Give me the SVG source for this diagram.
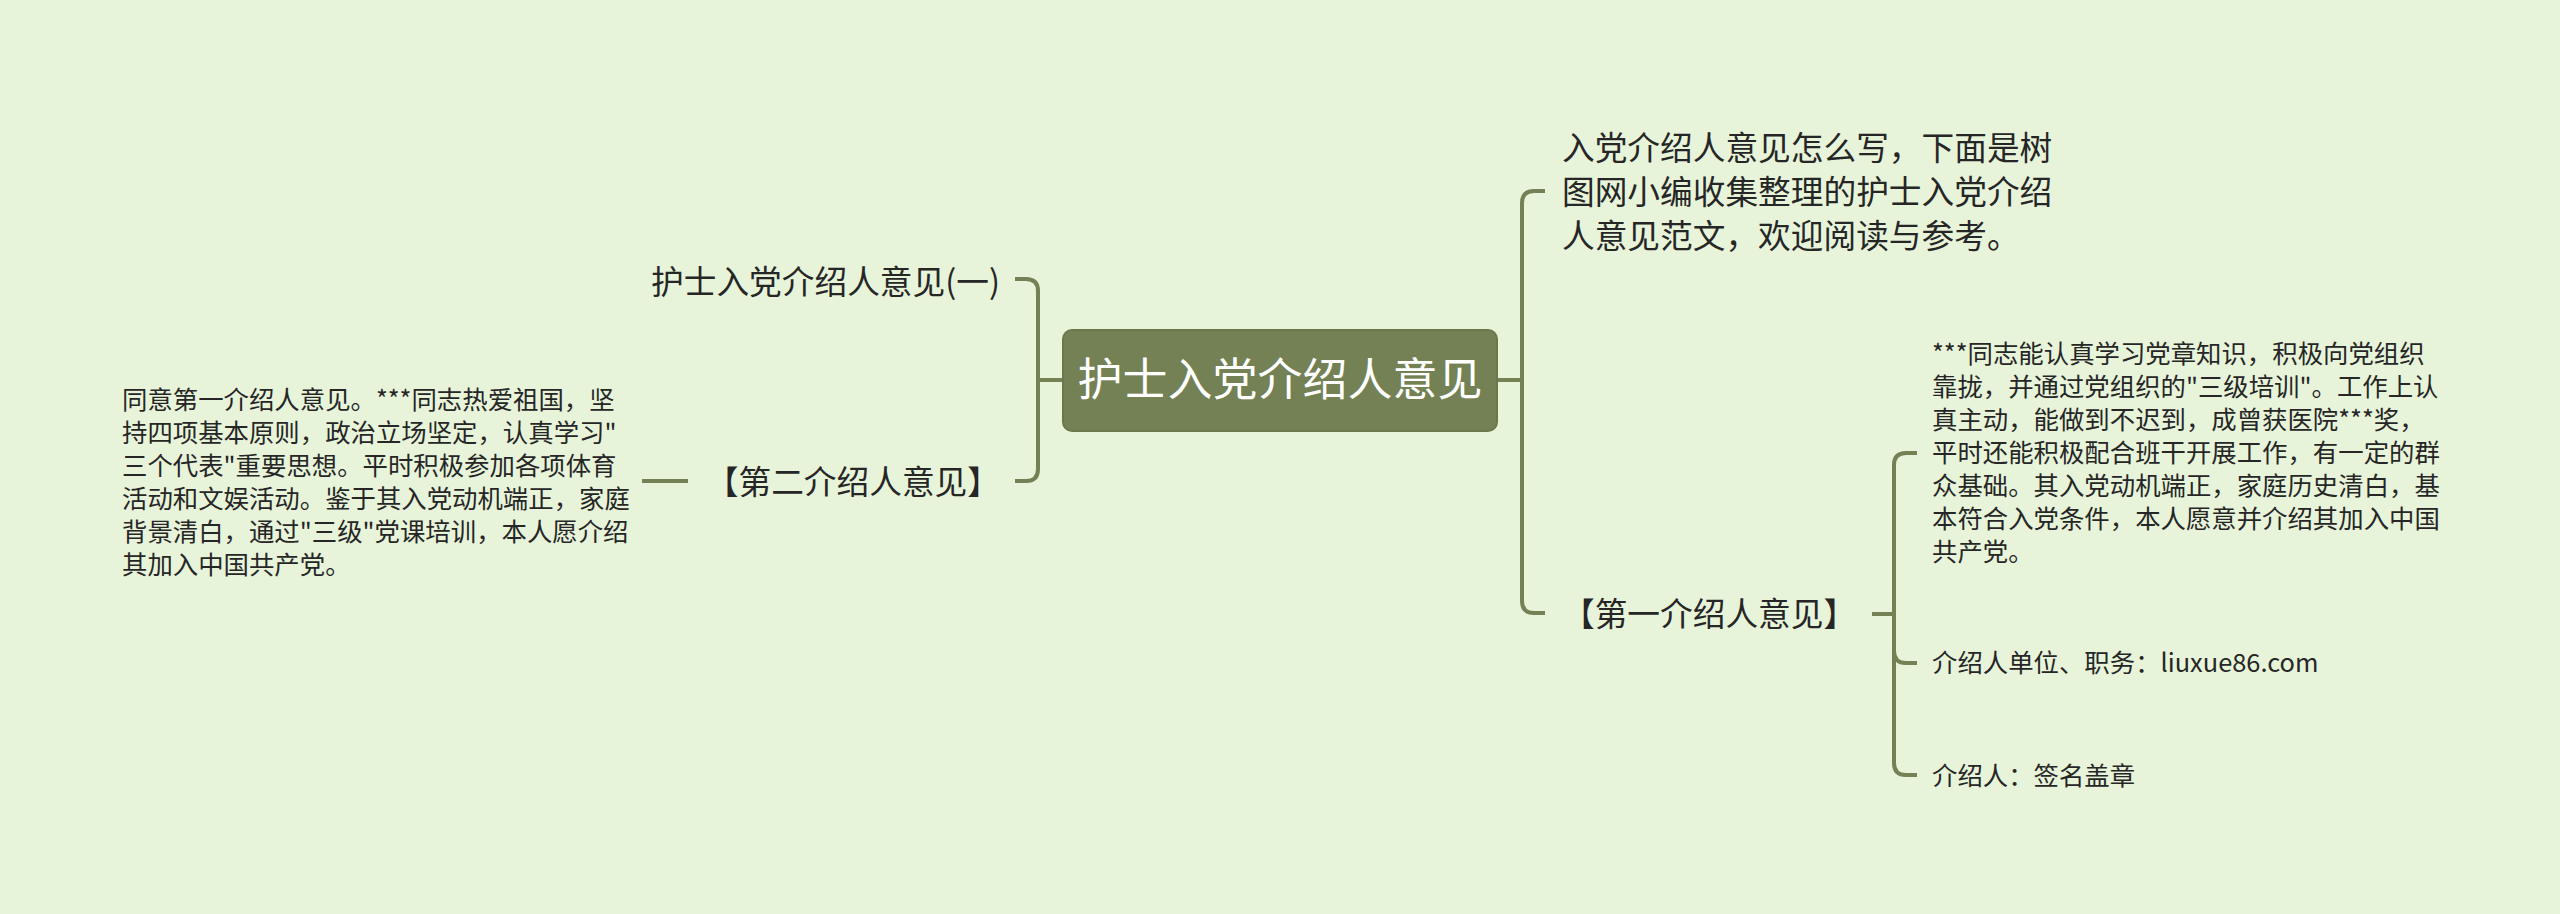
<svg xmlns="http://www.w3.org/2000/svg" width="2560" height="914" viewBox="0 0 2560 914">
<style>
.t{font-family:"Noto Sans CJK SC","Liberation Sans",sans-serif;fill:#262626}
.l1{font-size:32.7px}
.l2{font-size:25.4px}
.c{fill:none;stroke:#738154;stroke-width:4;stroke-linecap:butt}
</style>
<rect x="0" y="0" width="2560" height="914" fill="#e7f4da"/>
<g id="connectors">
<path class="c" d="M1015,279 H1026 Q1038,279 1038,291 V469 Q1038,481 1026,481 H1015"/>
<path class="c" d="M1038,380 H1063"/>
<path class="c" d="M1497,380 H1522"/>
<path class="c" d="M1545,191 H1534 Q1522,191 1522,203 V601 Q1522,613 1534,613 H1545"/>
<path class="c" d="M1872,614 H1894"/>
<path class="c" d="M1917,453 H1906 Q1894,453 1894,465 V763 Q1894,775 1906,775 H1917"/>
<path class="c" d="M1894,651 Q1894,663 1906,663 H1917"/>
<path class="c" d="M642,481 H688"/>
</g>
<g id="root">
<rect x="1063" y="330" width="434" height="101" rx="9" fill="#738154" stroke="#6a784c" stroke-width="2"/>
<text class="t" x="1280" y="396" font-size="45" text-anchor="middle" style="fill:#ffffff">护士入党介绍人意见</text>
</g>
<g id="n-left1">
<text class="t l1" x="1000" y="294" text-anchor="end">护士入党介绍人意见(一)</text>
</g>
<g id="n-left2">
<text class="t l1" x="1000" y="494" text-anchor="end">【第二介绍人意见】</text>
</g>
<g id="n-left2-text">
<text class="t l2">
<tspan x="122" y="409">同意第一介绍人意见。***同志热爱祖国，坚</tspan>
<tspan x="122" y="442">持四项基本原则，政治立场坚定，认真学习"</tspan>
<tspan x="122" y="475">三个代表"重要思想。平时积极参加各项体育</tspan>
<tspan x="122" y="508">活动和文娱活动。鉴于其入党动机端正，家庭</tspan>
<tspan x="122" y="541">背景清白，通过"三级"党课培训，本人愿介绍</tspan>
<tspan x="122" y="574">其加入中国共产党。</tspan>
</text>
</g>
<g id="n-right1">
<text class="t l1">
<tspan x="1562" y="160">入党介绍人意见怎么写，下面是树</tspan>
<tspan x="1562" y="204">图网小编收集整理的护士入党介绍</tspan>
<tspan x="1562" y="248">人意见范文，欢迎阅读与参考。</tspan>
</text>
</g>
<g id="n-right2">
<text class="t l1" x="1562" y="626">【第一介绍人意见】</text>
</g>
<g id="n-right2-text">
<text class="t l2">
<tspan x="1932" y="363">***同志能认真学习党章知识，积极向党组织</tspan>
<tspan x="1932" y="396">靠拢，并通过党组织的"三级培训"。工作上认</tspan>
<tspan x="1932" y="429">真主动，能做到不迟到，成曾获医院***奖，</tspan>
<tspan x="1932" y="462">平时还能积极配合班干开展工作，有一定的群</tspan>
<tspan x="1932" y="495">众基础。其入党动机端正，家庭历史清白，基</tspan>
<tspan x="1932" y="528">本符合入党条件，本人愿意并介绍其加入中国</tspan>
<tspan x="1932" y="561">共产党。</tspan>
</text>
</g>
<g id="n-unit">
<text class="t l2" x="1932" y="672">介绍人单位、职务：liuxue86.com</text>
</g>
<g id="n-sign">
<text class="t l2" x="1932" y="785">介绍人：签名盖章</text>
</g>
</svg>
